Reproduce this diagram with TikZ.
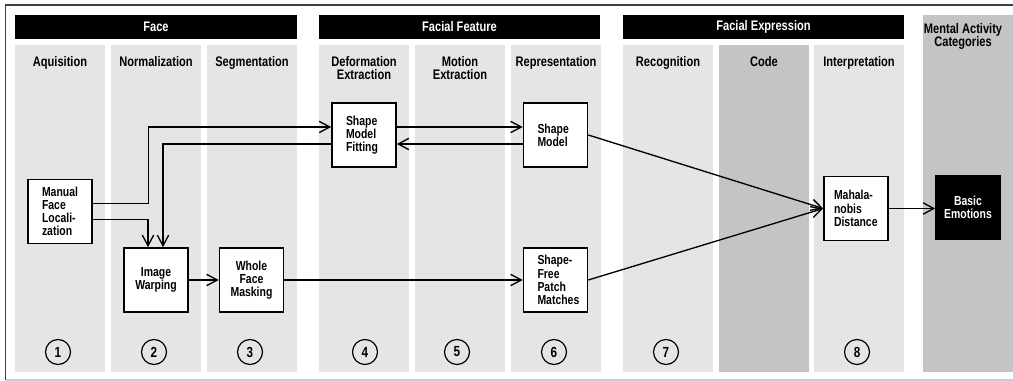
\documentclass[tikz,border=0pt]{standalone}
\usepackage{fontspec}
\setmainfont{Liberation Sans}[FakeStretch=0.8]
\usetikzlibrary{arrows.meta,calc}
\definecolor{lanelight}{gray}{0.9}
\definecolor{lanedark}{gray}{0.77}

\begin{document}
\begin{tikzpicture}[x=0.75pt,y=-0.75pt,
  lbl/.style={font=\fontsize{10.4}{9.8}\selectfont\bfseries,align=center,inner sep=0pt},
  stage/.style={draw,line width=1.2pt,fill=white,minimum width=48pt,minimum height=48pt,inner sep=0pt,font=\fontsize{9.8}{9.9}\selectfont\bfseries},
  lstage/.style={stage,align=left,text width=27pt},
  cstage/.style={stage,align=center},
  flow/.style={line width=1pt,-{Straight Barb[length=8pt,width=8.5pt,line width=1pt]}},
  num/.style={draw,circle,line width=0.9pt,minimum size=18.75pt,inner sep=0pt,font=\fontsize{11}{11}\selectfont\bfseries}]
  \pgfmathsetmacro{\lanew}{90};
  \pgfmathsetmacro{\lanetop}{45};
  \pgfmathsetmacro{\lanebot}{372};
  \useasboundingbox (0,0) rectangle (1013,381);
  % frame
  \draw[line width=0.8pt,black!75] (1013,5) -- (5.5,5) -- (5.5,380);
  \draw[line width=0.8pt,black!20] (5.5,380) -- (1013,380);
  % lanes
  \foreach \x/\c in {15/lanelight,111/lanelight,207/lanelight,319/lanelight,415/lanelight,511/lanelight,623/lanelight,719/lanedark,814/lanelight} {%
    \fill[\c] (\x,\lanetop) rectangle ++(\lanew,{\lanebot-\lanetop});
  }
  \fill[lanedark] (923,15) rectangle (1013,\lanebot);
  % headers
  \fill (15,15) rectangle (297,39);
  \fill (319,15) rectangle (600,39);
  \fill (623,15) rectangle (904,39);
  \node[lbl,text=white] (face) at (156,27) {Face};
  \node[lbl,text=white] (feature) at (459.5,27) {Facial Feature};
  \node[lbl,text=white] (expression) at (763.5,27) {Facial Expression};
  \node[lbl,anchor=north] (mental) at (963,23) {Mental Activity\\Categories};
  % lane labels
  \foreach \x/\t in {15/Aquisition,111/Normalization,207/Segmentation,319/{Deformation\\Extraction},415/{Motion\\Extraction},511/Representation,623/Recognition,719/Code,814/Interpretation} {%
    \node[lbl,anchor=north] (lab\x) at ({\x+\lanew/2},56) {\t};
  }
  % stages
  \node[lstage] (manual) at (60,211.5) {Manual\\Face\\Locali-\\zation};
  \node[cstage] (warp) at (156,280) {Image\\Warping};
  \node[cstage] (mask) at (251.5,280) {Whole\\Face\\Masking};
  \node[lstage] (fit) at (364,135) {Shape\\Model\\Fitting};
  \node[lstage] (shape) at (555.5,135) {Shape\\Model};
  \node[lstage] (patch) at (555.5,280) {Shape-\\Free\\Patch\\Matches};
  \node[lstage,text width=33pt] (maha) at (856,208.5) {\mbox{Mahala-}\\nobis\\Distance};
  \node[cstage,fill=black,text=white] (emo) at (968,207.5) {Basic\\Emotions};
  % connections
  \draw[flow] ($(manual.east)+(0,-8)$) -- ++(56,0) |- ($(fit.west)+(0,-8)$);
  \draw[flow] ($(fit.west)+(0,9)$) -| ($(warp.north)+(7,0)$);
  \draw[flow] ($(manual.east)+(0,8)$) -| ($(warp.north)+(-8,0)$);
  \draw[flow] (warp.east) -- (mask.west);
  \draw[flow] (mask.east) -- (patch.west);
  \draw[flow] ($(fit.east)+(0,-8)$) -- ($(shape.west)+(0,-8)$);
  \draw[flow] ($(shape.west)+(0,9)$) -- ($(fit.east)+(0,9)$);
  \draw[flow] (shape.east) -- (maha.west);
  \draw[flow] (patch.east) -- (maha.west);
  \draw[flow] (maha.east) -- (maha.east -| emo.west);
  % step numbers
  \foreach \x/\n in {58/1,154/2,250/3,365/4,457/5,554/6,666/7,857/8} {%
    \node[num] (step\n) at (\x,352) {\n};
  }
\end{tikzpicture}
\end{document}
